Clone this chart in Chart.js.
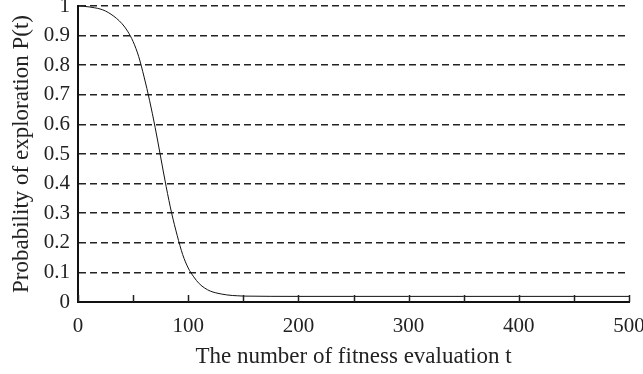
<!DOCTYPE html>
<html>
<head>
<meta charset="utf-8">
<script src="https://cdn.jsdelivr.net/npm/chart.js@4/dist/chart.umd.min.js"></script>
<style>
  html, body { margin: 0; padding: 0; background: #fff; }
  #wrap { width: 643px; height: 374px; position: relative; }
</style>
</head>
<body>
<div id="wrap"><canvas id="c" width="643" height="374"></canvas></div>
<script>
// Fitness evaluation count t
const tValues = [0, 5, 10, 15, 20, 25, 30, 35, 40, 45, 50, 55, 60, 65, 70, 75, 80, 85, 90, 95,
                 100, 105, 110, 115, 120, 125, 130, 135, 140, 145, 150, 200, 250, 300, 350, 400, 450, 500];
// Probability of exploration P(t)
const pValues = [1.0, 0.999, 0.997, 0.994, 0.99, 0.983, 0.972, 0.958, 0.94, 0.915, 0.88, 0.83, 0.76, 0.68, 0.59, 0.49, 0.39, 0.30, 0.225, 0.16,
                 0.115, 0.085, 0.062, 0.047, 0.037, 0.031, 0.027, 0.024, 0.022, 0.021, 0.02, 0.019, 0.019, 0.019, 0.019, 0.019, 0.019, 0.019];
const yTickLabels = ['0', '0.1', '0.2', '0.3', '0.4', '0.5', '0.6', '0.7', '0.8', '0.9', '1'];
const xTickLabels = ['0', '100', '200', '300', '400', '500'];

const FONT = 'Liberation Serif';

const innerTicks = {
  id: 'innerTicks',
  afterDatasetsDraw(chart) {
    const x = chart.scales.x, y = chart.scales.y;
    const ctx = chart.ctx;
    ctx.save();
    ctx.strokeStyle = '#222';
    ctx.lineWidth = 1.5;
    ctx.beginPath();
    x.ticks.forEach(t => {
      const px = Math.round(x.getPixelForValue(t.value)) + 0.5;
      ctx.moveTo(px, y.bottom);
      ctx.lineTo(px, y.bottom - 7);
    });
    ctx.stroke();
    ctx.restore();
  }
};

new Chart(document.getElementById('c'), {
  type: 'line',
  data: {
    datasets: [{
      data: tValues.map((t, i) => ({ x: t, y: pValues[i] })),
      borderColor: '#111',
      borderWidth: 1,
      pointRadius: 0,
      cubicInterpolationMode: 'monotone',
      fill: false
    }]
  },
  options: {
    responsive: false,
    animation: false,
    layout: { padding: { top: 6, right: 14, left: 0, bottom: 0 } },
    plugins: { legend: { display: false }, tooltip: { enabled: false } },
    scales: {
      x: {
        type: 'linear',
        min: 0, max: 500,
        afterFit(s) { s.height = 72; s.paddingRight = 0; s.paddingLeft = 0; },
        ticks: {
          stepSize: 50,
          autoSkip: false,
          maxRotation: 0,
          padding: 12,
          color: '#222',
          font: { family: FONT, size: 21 },
          callback: (v) => (v % 100 === 0 ? xTickLabels[v / 100] : '')
        },
        grid: { display: true, drawOnChartArea: false, drawTicks: false },
        border: { display: true, color: '#111', width: 2 },
        title: {
          display: true,
          text: 'The number of fitness evaluation t',
          color: '#222',
          font: { family: FONT, size: 23 },
          padding: { top: 0, bottom: 3 }
        }
      },
      y: {
        min: 0, max: 1,
        afterFit(s) { s.width = 78; s.paddingTop = 0; s.paddingBottom = 0; },
        ticks: {
          stepSize: 0.1,
          autoSkip: false,
          padding: 8,
          color: '#222',
          font: { family: FONT, size: 21 },
          callback: (v) => yTickLabels[Math.round(v * 10)]
        },
        grid: { color: '#222', lineWidth: 1.5, drawTicks: false },
        border: { display: true, color: '#111', width: 2, dash: [7, 4] },
        title: {
          display: true,
          text: 'Probability of exploration P(t)',
          color: '#222',
          font: { family: FONT, size: 23 },
          padding: { top: 8, bottom: 0 }
        }
      }
    }
  },
  plugins: [innerTicks]
});
</script>
</body>
</html>
